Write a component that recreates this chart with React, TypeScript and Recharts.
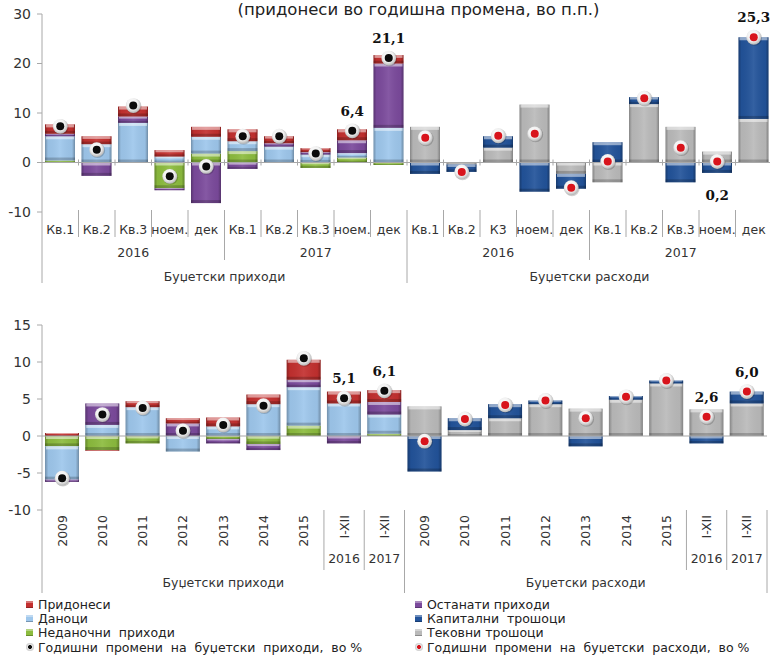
import { ComposedChart, Bar, Line, XAxis, YAxis, ReferenceLine, LabelList } from 'recharts';

const FONT = '"DejaVu Sans", Verdana, sans-serif';
const GRID = '#a8a8a8';

// ---- upper panel: quarters / months 2016-2017 ----
const topCats = [
  'Кв.1', 'Кв.2', 'Кв.3', 'ноем.', 'дек', 'Кв.1', 'Кв.2', 'Кв.3', 'ноем.', 'дек',
  'Кв.1', 'Кв.2', 'К3', 'ноем.', 'дек', 'Кв.1', 'Кв.2', 'Кв.3', 'ноем.', 'дек',
];
const topYears = ['2016', '2017', '2016', '2017'];
const groups = ['Буџетски приходи', 'Буџетски расходи'];

// revenue components
const topNonTax = [0.4, 0, 0, -5.2, 1.8, 2.3, 0, -1.1, 1.0, -0.5];
const topTaxes = [4.9, 3.7, 8.0, 1.2, 3.4, 2.0, 3.2, 1.6, 0.9, 7.0];
const topOther = [0.5, -2.7, 1.3, -0.4, -8.2, -1.3, 0.7, 0.5, 2.6, 13.0];
const topContrib = [1.9, 1.6, 2.0, 1.3, 2.0, 2.4, 1.4, 0.8, 2.2, 1.7];
const topRevTotal = [7.3, 2.6, 11.5, -2.8, -0.8, 5.3, 5.3, 1.8, 6.4, 21.1];
// expenditure components
const topCurrent = [7.2, -0.4, 3.0, 11.7, -2.3, -4.0, 11.8, 7.2, 2.2, 8.8];
const topCapital = [-2.3, -1.5, 2.3, -5.9, -3.0, 4.1, 1.4, -4.0, -2.1, 16.5];
const topExpTotal = [5.0, -1.9, 5.4, 5.8, -5.1, 0.2, 13.0, 3.0, 0.2, 25.3];

const topTicks = [-10, 0, 10, 20, 30];

// ---- lower panel: annual 2009-2017 ----
const botCats = [
  '2009', '2010', '2011', '2012', '2013', '2014', '2015', 'I-XII', 'I-XII',
  '2009', '2010', '2011', '2012', '2013', '2014', '2015', 'I-XII', 'I-XII',
];
const botYears = ['2016', '2017'];

const botNonTax = [-1.4, -1.9, -1.0, 0, -0.4, -1.1, 1.4, 0, 0.3];
const botTaxes = [-4.5, 1.5, 3.9, -2.1, 1.3, 4.3, 5.2, 4.4, 2.6];
const botOther = [-0.3, 2.9, 0, 1.7, -0.6, -0.8, 1.0, -1.0, 1.7];
const botContrib = [0.4, -0.1, 0.8, 0.7, 1.2, 1.3, 2.7, 1.6, 1.6];
const botRevTotal = [-5.7, 2.9, 3.8, 0.7, 1.5, 4.1, 10.5, 5.1, 6.1];
const botCurrent = [4.0, 0.8, 2.4, 4.3, 3.7, 4.9, 7.1, 3.6, 4.4];
const botCapital = [-4.8, 1.6, 1.9, 0.5, -1.4, 0.5, 0.4, -1.0, 1.6];
const botExpTotal = [-0.7, 2.3, 4.2, 4.8, 2.4, 5.3, 7.5, 2.6, 6.0];

const botTicks = [-10, -5, 0, 5, 10, 15];

const SERIES = [
  { key: 'nonTax', color: '#8cbc3e' },
  { key: 'taxes', color: '#9ec7ec' },
  { key: 'other', color: '#7b4a9c' },
  { key: 'contrib', color: '#c3302f' },
  { key: 'current', color: '#bababa' },
  { key: 'capital', color: '#22539a' },
];

function buildRows(
  n: number,
  rev: number[][],
  exp: number[][],
  revTotal: number[],
  expTotal: number[],
) {
  return Array.from({ length: n * 2 }, (_, i) => {
    const r = i < n;
    const j = r ? i : i - n;
    return {
      i,
      nonTax: r ? rev[0][j] : 0,
      taxes: r ? rev[1][j] : 0,
      other: r ? rev[2][j] : 0,
      contrib: r ? rev[3][j] : 0,
      current: r ? 0 : exp[0][j],
      capital: r ? 0 : exp[1][j],
      revDot: r ? revTotal[j] : null,
      expDot: r ? null : expTotal[j],
    };
  });
}

const topRows = buildRows(10, [topNonTax, topTaxes, topOther, topContrib], [topCurrent, topCapital], topRevTotal, topExpTotal);
const botRows = buildRows(9, [botNonTax, botTaxes, botOther, botContrib], [botCurrent, botCapital], botRevTotal, botExpTotal);

// bar segment with a bevelled look
function Bevel(props: any) {
  let { x, y, width, height } = props;
  const { fill } = props;
  if (height == null || isNaN(height)) return null;
  if (height < 0) {
    y += height;
    height = -height;
  }
  if (height < 0.4) return null;
  const e = Math.min(3, height / 3);
  return (
    <g>
      <rect x={x} y={y} width={width} height={height} fill={fill} />
      <rect x={x} y={y} width={width} height={height} fill="url(#sideShade)" />
      <rect x={x + 1} y={y} width={width - 2} height={e} fill="#fff" opacity={0.5} />
      <rect x={x} y={y + height - e} width={width} height={e} fill="#000" opacity={0.2} />
    </g>
  );
}

const makeDot = (inner: string) => (p: any) => {
  const { cx, cy, index, value } = p;
  if (value == null || cy == null || isNaN(cy)) return <g key={index} />;
  return (
    <g key={index}>
      <circle cx={cx + 0.8} cy={cy + 0.8} r={7.6} fill="#000" opacity={0.18} />
      <circle cx={cx} cy={cy} r={7.4} fill="url(#ring)" />
      <circle cx={cx} cy={cy} r={4} fill={inner} />
    </g>
  );
};

const fmt = (v: number) => v.toFixed(1).replace('.', ',');

const makeLabel = (shown: number[], below: number[]) => (p: any) => {
  const { x, y, value, index } = p;
  if (value == null || !shown.includes(index)) return null;
  const dy = below.includes(index) ? 33 : -20;
  return (
    <text
      x={x}
      y={y + dy}
      textAnchor="middle"
      dominantBaseline="central"
      fontFamily='"DejaVu Serif", Georgia, serif'
      fontWeight="bold"
      fontSize={13.5}
      fill="#111"
    >
      {fmt(value)}
    </text>
  );
};

const Defs = () => (
  <defs>
    <linearGradient id="sideShade" x1="0" y1="0" x2="1" y2="0">
      <stop offset="0" stopColor="#000" stopOpacity={0.28} />
      <stop offset="0.1" stopColor="#000" stopOpacity={0.04} />
      <stop offset="0.5" stopColor="#fff" stopOpacity={0.08} />
      <stop offset="0.9" stopColor="#000" stopOpacity={0.04} />
      <stop offset="1" stopColor="#000" stopOpacity={0.3} />
    </linearGradient>
    <radialGradient id="ring" cx="0.45" cy="0.4" r="0.6">
      <stop offset="0" stopColor="#ffffff" />
      <stop offset="0.6" stopColor="#f2f2f2" />
      <stop offset="1" stopColor="#b5b5b5" />
    </radialGradient>
  </defs>
);

const txt = { fontFamily: FONT, fill: '#333' };

// ---- panel geometry ----
const TOP = { w: 772, h: 290, mt: 14, axisH: 78, yW: 42, domain: [-10, 30] };
const topPlotBottom = TOP.h - TOP.axisH;
const topBand = (TOP.w - TOP.yW) / topCats.length;
const topZeroY = TOP.mt + ((topPlotBottom - TOP.mt) * TOP.domain[1]) / (TOP.domain[1] - TOP.domain[0]);

const BOT = { w: 768, h: 300, mt: 25, mr: 1, axisH: 90, yW: 42, domain: [-10, 15] };
const botPlotBottom = BOT.h - BOT.axisH;
const botBand = (BOT.w - BOT.mr - BOT.yW) / botCats.length;

function TopTick(props: any) {
  const { x, payload } = props;
  const i = payload.value as number;
  const left = x - topBand / 2;
  const yb = topPlotBottom;
  const end = i % 10 === 0 ? yb + 71 : i % 5 === 0 ? yb + 48 : yb + 25;
  return (
    <g>
      <line x1={left} x2={left} y1={i === 0 ? yb : yb - 2} y2={end} stroke={GRID} />
      {i > 0 && <line x1={left} x2={left} y1={topZeroY - 3} y2={topZeroY + 3} stroke={GRID} />}
      <text x={x} y={yb + 17} textAnchor="middle" dominantBaseline="central" fontSize={12.5} {...txt}>
        {topCats[i]}
      </text>
      {i % 5 === 2 && (
        <text x={x} y={yb + 40} textAnchor="middle" dominantBaseline="central" fontSize={12.5} {...txt}>
          {topYears[Math.floor(i / 5)]}
        </text>
      )}
      {i % 10 === 4 && (
        <text x={x + topBand / 2} y={yb + 64} textAnchor="middle" dominantBaseline="central" fontSize={12.5} {...txt}>
          {groups[Math.floor(i / 10)]}
        </text>
      )}
    </g>
  );
}

function BotTick(props: any) {
  const { x, payload } = props;
  const i = payload.value as number;
  const j = i % 9;
  const left = x - botBand / 2;
  const right = x + botBand / 2;
  const yb = botPlotBottom;
  return (
    <g>
      {j === 0 && <line x1={left} x2={left} y1={yb} y2={yb + 83} stroke={GRID} />}
      {j >= 7 && <line x1={left} x2={left} y1={yb} y2={yb + 60} stroke={GRID} />}
      {i === botCats.length - 1 && <line x1={right} x2={right} y1={yb} y2={yb + 83} stroke={GRID} />}
      <text
        x={x}
        y={yb + 5}
        transform={`rotate(-90, ${x}, ${yb + 5})`}
        textAnchor="end"
        dominantBaseline="central"
        fontSize={12.5}
        {...txt}
      >
        {botCats[i]}
      </text>
      {j >= 7 && (
        <text x={x} y={yb + 48} textAnchor="middle" dominantBaseline="central" fontSize={12.5} {...txt}>
          {botYears[j - 7]}
        </text>
      )}
      {j === 4 && (
        <text x={x} y={yb + 72} textAnchor="middle" dominantBaseline="central" fontSize={12.5} {...txt}>
          {groups[Math.floor(i / 9)]}
        </text>
      )}
    </g>
  );
}

function Panel({ rows, geo, ticks, tick, barSize, shown, below }: any) {
  return (
    <ComposedChart
      width={geo.w}
      height={geo.h}
      data={rows}
      stackOffset="sign"
      barSize={barSize}
      margin={{ top: geo.mt, right: geo.mr || 0, bottom: 0, left: 0 }}
    >
      <Defs />
      <XAxis dataKey="i" type="category" interval={0} height={geo.axisH} axisLine={false} tickLine={false} tick={tick} />
      <YAxis
        type="number"
        domain={geo.domain}
        ticks={ticks}
        width={geo.yW}
        allowDataOverflow
        axisLine={{ stroke: GRID }}
        tickLine={{ stroke: GRID }}
        tickSize={5}
        tickMargin={6}
        tick={{ fontSize: 14, fontFamily: FONT, fill: '#333' }}
      />
      <ReferenceLine y={0} stroke={GRID} strokeWidth={1.2} />
      {SERIES.map((s) => (
        <Bar
          key={s.key}
          dataKey={s.key}
          stackId="a"
          fill={s.color}
          isAnimationActive={false}
          shape={(p: any) => <Bevel {...p} fill={s.color} />}
        />
      ))}
      <Line dataKey="revDot" stroke="none" isAnimationActive={false} dot={makeDot('#0b0b0b')} activeDot={false}>
        <LabelList dataKey="revDot" content={makeLabel(shown, below)} />
      </Line>
      <Line dataKey="expDot" stroke="none" isAnimationActive={false} dot={makeDot('#d8141c')} activeDot={false}>
        <LabelList dataKey="expDot" content={makeLabel(shown, below)} />
      </Line>
    </ComposedChart>
  );
}

const legendLeft = [
  { label: 'Придонеси', color: '#c3302f' },
  { label: 'Даноци', color: '#9ec7ec' },
  { label: 'Неданочни  приходи', color: '#8cbc3e' },
  { label: 'Годишни  промени  на  буџетски  приходи,  во %', dot: '#111' },
];
const legendRight = [
  { label: 'Останати приходи', color: '#7b4a9c' },
  { label: 'Капитални  трошоци', color: '#22539a' },
  { label: 'Тековни трошоци', color: '#bababa' },
  { label: 'Годишни  промени  на  буџетски  расходи,  во %', dot: '#d8141c' },
];

function LegendCol({ items, left }: any) {
  return (
    <div style={{ position: 'absolute', left, top: 597 }}>
      {items.map((it: any) => (
        <div key={it.label} style={{ display: 'flex', alignItems: 'center', height: 14.3 }}>
          {it.dot ? (
            <span
              style={{
                width: 8,
                height: 8,
                borderRadius: '50%',
                background: 'radial-gradient(circle, ' + it.dot + ' 0 30%, #e8e8e8 40%, #b0b0b0 100%)',
                marginRight: 4,
              }}
            />
          ) : (
            <span
              style={{
                width: 7,
                height: 7,
                background: it.color,
                boxShadow: 'inset 0 2px 0 rgba(255,255,255,0.35), inset 0 -1px 0 rgba(0,0,0,0.25)',
                marginRight: 5,
              }}
            />
          )}
          <span style={{ fontFamily: FONT, fontSize: 12.5, color: '#222', whiteSpace: 'pre' }}>{it.label}</span>
        </div>
      ))}
    </div>
  );
}

export default function App() {
  return (
    <div style={{ position: 'absolute', left: 0, top: 0, width: 770, height: 661, background: '#fff', overflow: 'hidden' }}>
      <div
        style={{
          position: 'absolute',
          top: 0,
          left: 0,
          width: 837,
          textAlign: 'center',
          fontFamily: FONT,
          fontSize: 16.5,
          lineHeight: '19px',
          color: '#222',
        }}
      >
        (придонеси во годишна промена, во п.п.)
      </div>
      <div style={{ position: 'absolute', left: 0, top: 0 }}>
        <Panel rows={topRows} geo={TOP} ticks={topTicks} tick={<TopTick />} barSize={30} shown={[8, 9, 18, 19]} below={[18]} />
      </div>
      <div style={{ position: 'absolute', left: 0, top: 300 }}>
        <Panel rows={botRows} geo={BOT} ticks={botTicks} tick={<BotTick />} barSize={34} shown={[7, 8, 16, 17]} below={[]} />
      </div>
      <LegendCol items={legendLeft} left={26} />
      <LegendCol items={legendRight} left={415} />
    </div>
  );
}
